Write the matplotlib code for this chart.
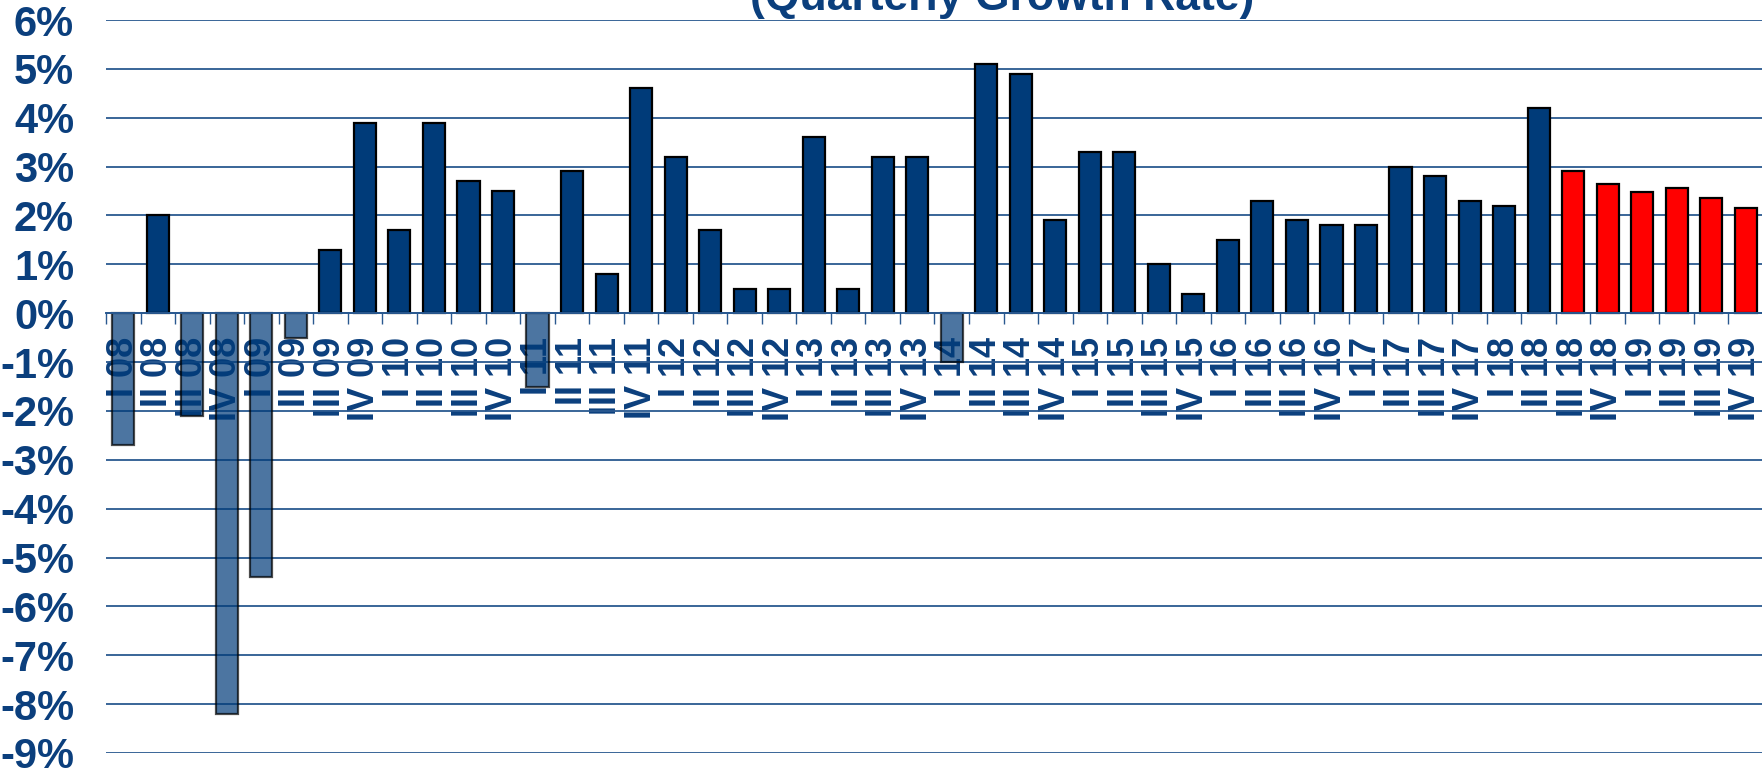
import matplotlib
matplotlib.use("Agg")
import matplotlib.pyplot as plt
import numpy as np

plt.rcParams['font.family'] = ['Liberation Sans', 'DejaVu Sans']
plt.rcParams['font.weight'] = 'bold'

# quarterly real growth, % (last six quarters are the forecast)
quarters = ["I", "II", "III", "IV"]
years = ["08", "09", "10", "11", "12", "13", "14", "15", "16", "17", "18", "19"]
growth = [-2.7, 2.0, -2.1, -8.2,
          -5.4, -0.5, 1.3, 3.9,
          1.7, 3.9, 2.7, 2.5,
          -1.5, 2.9, 0.8, 4.6,
          3.2, 1.7, 0.5, 0.5,
          3.6, 0.5, 3.2, 3.2,
          -1.0, 5.1, 4.9, 1.9,
          3.3, 3.3, 1.0, 0.4,
          1.5, 2.3, 1.9, 1.8,
          1.8, 3.0, 2.8, 2.3,
          2.2, 4.2, 2.92, 2.65,
          2.47, 2.57, 2.36, 2.16]
first_forecast = "III 18"

labels = [q + " " + y for y in years for q in quarters]
n_hist = labels.index(first_forecast)

navy = "#003b79"
text_col = "#0b3f7d"
grid_col = "#2a5990"

fig = plt.figure(figsize=(17.62, 7.68), dpi=100)
ax = fig.add_axes([106/1762, 1 - 753/768, 1657/1762, 733/768])

# x axis sits on the zero line (do this first, it rebuilds the ticks)
for s in ["top", "right", "left"]:
    ax.spines[s].set_visible(False)
ax.spines["bottom"].set_position(("data", 0))
ax.spines["bottom"].set_color(grid_col)
ax.spines["bottom"].set_linewidth(1.4)
ax.spines["bottom"].set_zorder(4)

x = np.arange(len(growth))
vals = np.array(growth)
for i, v in enumerate(vals):
    if i >= n_hist:
        ax.bar(i, v, width=0.64, color="#ff0000", edgecolor="black", linewidth=1.6, zorder=3)
    elif v < 0:
        ax.bar(i, v, width=0.64, color=navy, alpha=0.7, edgecolor="black", linewidth=1.6, zorder=3)
    else:
        ax.bar(i, v, width=0.64, color=navy, edgecolor="black", linewidth=1.6, zorder=3)

ax.set_xlim(-0.5, len(growth) - 0.5)
ax.set_ylim(-9, 6)
ax.set_yticks(range(-9, 7))
ax.set_yticklabels([f"{t}%" for t in range(-9, 7)])
ax.yaxis.grid(True, color=grid_col, linewidth=1.3, zorder=0)
ax.set_axisbelow(True)

# category labels at bar centres, tick marks between the bars
ax.set_xticks(x)
ax.set_xticklabels(labels)
ax.set_xticks(np.arange(len(growth)) - 0.5, minor=True)
ax.tick_params(axis="x", which="major", length=0, pad=17, labelsize=26,
               labelcolor=text_col, labelrotation=90)
ax.tick_params(axis="x", which="minor", length=8, width=1, color=grid_col,
               direction="out")
ax.tick_params(axis="y", length=0, pad=23, labelsize=30, labelcolor=text_col)
for lab in ax.get_xticklabels():
    lab.set_zorder(5)

fig.text(1002/1762, 1 - 10/768, "(Quarterly Growth Rate)", ha="center",
         va="baseline", fontsize=32, fontweight="bold", color=text_col)

fig.savefig("out.png", dpi=100)
